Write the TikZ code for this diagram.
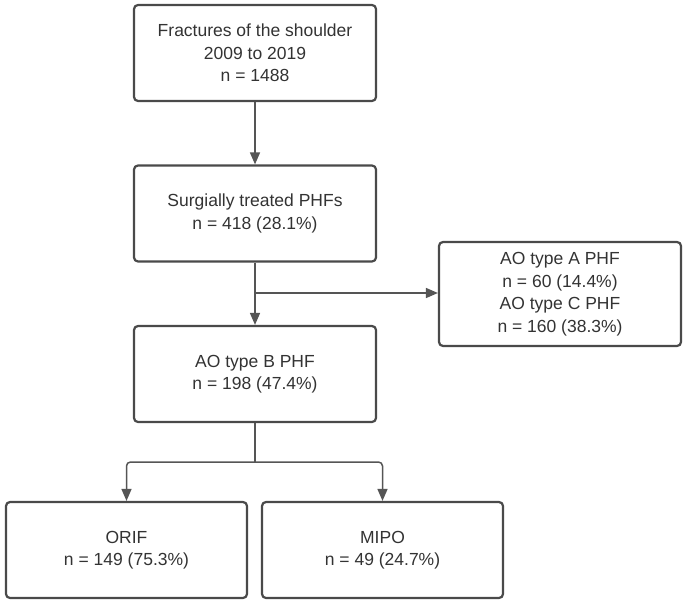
\documentclass[tikz,border=0pt]{standalone}
\usepackage{fontspec}
\setmainfont{Liberation Sans}
\usetikzlibrary{arrows.meta,positioning}
\definecolor{boxline}{HTML}{4A4A4A}
\definecolor{conn}{HTML}{555555}
\definecolor{txt}{HTML}{333333}
\tikzset{
  box/.style={draw=boxline, line width=2.2pt, rounded corners=4pt, fill=white,
    text=txt, align=center, inner sep=0pt,
    font=\fontsize{17.5}{22.5}\selectfont},
  conn/.style={draw=conn, line width=1.5pt, -{Triangle[length=12pt,width=10pt]}, rounded corners=4pt},
  plain/.style={draw=conn, line width=1.5pt, rounded corners=4pt}
}
\begin{document}
\begin{tikzpicture}[x=1pt,y=-1pt]
\useasboundingbox (0,0) rectangle (685,604);
\fill[white] (0,0) rectangle (685,604);
\node[box, minimum width=242pt, minimum height=96pt] (top) at (255,53) {Fractures of the shoulder\\2009 to 2019\\n = 1488};
\node[box, minimum width=242pt, minimum height=96pt] (surg) at (255,213.5) {Surgially treated PHFs\\n = 418 (28.1\%)};
\node[box, minimum width=242pt, minimum height=104pt] (ac) at (560,294) {AO type A PHF\\n = 60 (14.4\%)\\AO type C PHF\\n = 160 (38.3\%)};
\node[box, minimum width=242pt, minimum height=96pt] (b) at (255,374) {AO type B PHF\\n = 198 (47.4\%)};
\node[box, minimum width=241pt, minimum height=96pt] (orif) at (126.5,550) {ORIF\\n = 149 (75.3\%)};
\node[box, minimum width=241pt, minimum height=96pt] (mipo) at (382.5,550) {MIPO\\n = 49 (24.7\%)};
\coordinate (split) at (255,293);
\coordinate (fork) at (255,462);
\draw[conn] (top.south) -- (surg.north);
\draw[conn] (surg.south) -- (b.north);
\draw[conn] (split) -- (ac.west |- split);
\draw[plain] (b.south) -- (fork);
\draw[conn] (fork) -- (orif.north |- fork) -- (orif.north);
\draw[conn] (fork) -- (mipo.north |- fork) -- (mipo.north);
\end{tikzpicture}
\end{document}
